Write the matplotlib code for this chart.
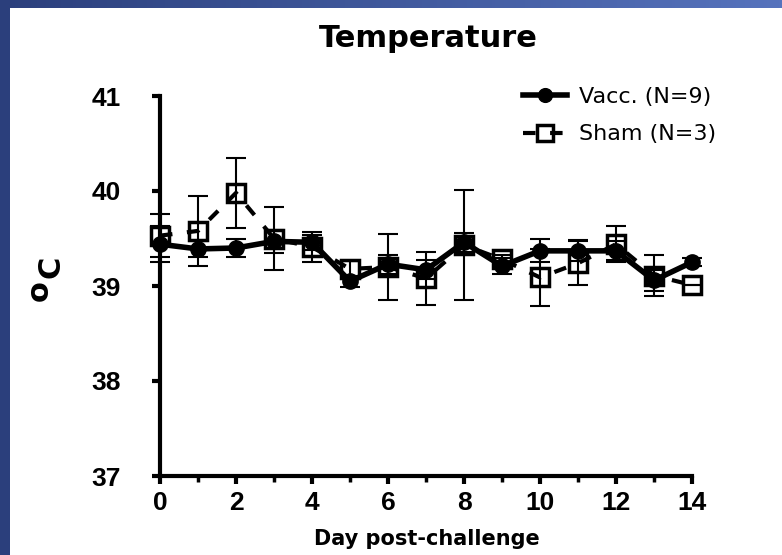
import numpy as np
import matplotlib
matplotlib.use("Agg")
import matplotlib.pyplot as plt
from matplotlib.patches import Rectangle
from matplotlib.colors import LinearSegmentedColormap

plt.rcParams['font.family'] = ['Liberation Sans', 'DejaVu Sans']

days = list(range(15))
vacc = [39.44, 39.39, 39.40, 39.47, 39.46, 39.05, 39.23, 39.17, 39.46, 39.21,
        39.37, 39.37, 39.37, 39.06, 39.25]
vacc_err = [0.19, 0.08, 0.09, 0.12, 0.08, 0.06, 0.10, 0.10, 0.10, 0.08,
            0.12, 0.11, 0.10, 0.11, 0.04]
sham = [39.53, 39.58, 39.98, 39.50, 39.41, 39.18, 39.20, 39.08, 39.43, 39.28,
        39.09, 39.24, 39.44, 39.11, 39.01]
sham_err = [0.23, 0.37, 0.37, 0.33, 0.16, 0.08, 0.35, 0.28, 0.58, 0.05,
            0.30, 0.23, 0.19, 0.22, 0.0]
xticks = [0, 2, 4, 6, 8, 10, 12, 14]
yticks = [37, 38, 39, 40, 41]

W, H = 782, 555
fig = plt.figure(figsize=(W / 100, H / 100), dpi=100)

def fx(px):
    return px / W

def fy(py):
    return 1 - py / H

# background frame: gradient blue border on left and top
bg = fig.add_axes([0, 0, 1, 1])
grad = np.linspace(0, 1, 256)[None, :]
cmap = LinearSegmentedColormap.from_list('b', ['#2b3f7c', '#5673bd'])
bg.imshow(grad, aspect='auto', cmap=cmap, extent=[0, 1, 0, 1])
bg.add_patch(Rectangle((10 / W, 0), 1, 1 - 8 / H, facecolor='white',
                       edgecolor='none', transform=bg.transAxes))
bg.set_xlim(0, 1)
bg.set_ylim(0, 1)
bg.axis('off')

x0, x1 = 160, 692
y0, y1 = 476, 96
ax = fig.add_axes([fx(x0), fy(y0), (x1 - x0) / W, (y0 - y1) / H])
ax.patch.set_alpha(0)

# Sham
ax.errorbar(days, sham, yerr=sham_err, fmt='none', ecolor='black',
            elinewidth=1.5, capsize=7, capthick=1.5, clip_on=False, zorder=2)
ax.plot(days, sham, color='black', lw=3, ls=(0, (3, 3.5)), marker='s',
        markersize=13, markerfacecolor='none', markeredgecolor='black',
        markeredgewidth=2.5, clip_on=False, zorder=3, label='Sham (N=3)')
# Vaccinated
ax.errorbar(days, vacc, yerr=vacc_err, fmt='none', ecolor='black',
            elinewidth=1.5, capsize=7, capthick=1.5, clip_on=False, zorder=4)
ax.plot(days, vacc, color='black', lw=4, marker='o', markersize=11,
        markerfacecolor='black', markeredgecolor='black', clip_on=False,
        zorder=5, label='Vacc. (N=9)')

ax.set_xlim(0, 14)
ax.set_ylim(37, 41)
ax.set_xticks(xticks)
ax.set_xticks(range(1, 15, 2), minor=True)
ax.set_yticks(yticks)
for s in ['top', 'right']:
    ax.spines[s].set_visible(False)
for s in ['left', 'bottom']:
    ax.spines[s].set_linewidth(3)
ax.tick_params(axis='both', which='major', width=3, length=6, direction='out',
               labelsize=19)
ax.tick_params(axis='x', which='minor', width=2.5, length=4, direction='out')
ax.tick_params(axis='x', pad=5)
ax.tick_params(axis='y', pad=22)
for lab in ax.get_xticklabels() + ax.get_yticklabels():
    lab.set_fontweight('bold')

fig.text(fx(428), fy(47), 'Temperature', fontsize=22, fontweight='bold',
         family='DejaVu Sans', ha='center', va='baseline')
fig.text(fx(427), fy(545), 'Day post-challenge', fontsize=15, fontweight='bold',
         family='DejaVu Sans', ha='center', va='baseline')
# y axis label: degree "o" raised before "C", rotated
fig.text(fx(51), fy(267), 'C', fontsize=22, fontweight='bold',
         family='DejaVu Sans', rotation=90, ha='center', va='center')
fig.text(fx(39), fy(291), 'o', fontsize=22, fontweight='bold',
         family='DejaVu Sans', rotation=90, ha='center', va='center')

handles, labels = ax.get_legend_handles_labels()
leg = ax.legend(handles[::-1], labels[::-1], loc='upper left',
                bbox_to_anchor=(fx(523), fy(87)), bbox_transform=fig.transFigure,
                frameon=False, prop={'family': 'DejaVu Sans', 'size': 16},
                handlelength=2.0, handletextpad=0.5,
                labelspacing=0.78, borderpad=0, borderaxespad=0, markerscale=0.9)

fig.savefig('out.png', dpi=100)
